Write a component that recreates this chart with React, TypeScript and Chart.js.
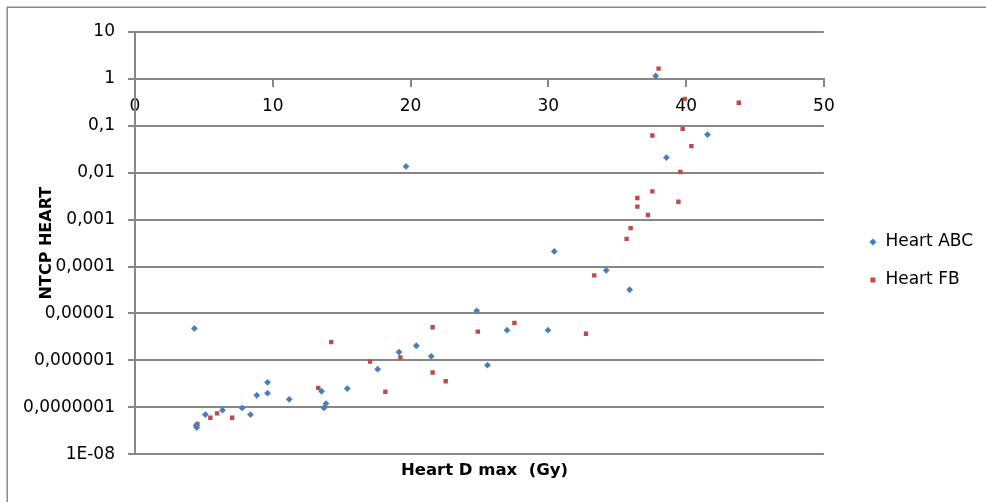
import React, { useEffect, useRef } from "react";
import { Chart, registerables } from "chart.js";

Chart.register(...registerables);

// Heart ABC series (Dmax in Gy, NTCP)
const abcX = [4.31, 4.43, 4.48, 5.11, 6.35, 7.78, 8.38, 8.84, 9.62, 9.62, 11.19, 13.54, 13.71, 13.86, 15.41, 17.61, 19.16, 19.67, 20.42, 21.5, 24.8, 25.58, 27.0, 29.97, 30.43, 34.2, 35.9, 37.79, 38.57, 41.55];
const abcY = [4.8e-6, 4.1e-8, 3.7e-8, 7.0e-8, 8.7e-8, 9.7e-8, 7.0e-8, 1.8e-7, 3.4e-7, 2.0e-7, 1.48e-7, 2.2e-7, 9.7e-8, 1.2e-7, 2.5e-7, 6.5e-7, 1.5e-6, 0.0136, 2.05e-6, 1.22e-6, 1.14e-5, 7.9e-7, 4.4e-6, 4.4e-6, 2.1e-4, 8.3e-5, 3.2e-5, 1.16, 0.021, 0.065];

// Heart FB series
const fbX = [4.53, 5.47, 5.96, 7.05, 13.3, 14.24, 17.06, 18.17, 19.26, 21.6, 21.6, 22.55, 24.88, 27.54, 32.73, 33.33, 35.68, 35.97, 36.46, 36.46, 37.23, 37.55, 37.55, 38.0, 39.44, 39.58, 39.75, 39.9, 40.38, 43.82];
const fbY = [4.4e-8, 6.0e-8, 7.4e-8, 6.0e-8, 2.6e-7, 2.45e-6, 9.4e-7, 2.15e-7, 1.15e-6, 5.1e-6, 5.5e-7, 3.6e-7, 4.1e-6, 6.3e-6, 3.7e-6, 6.5e-5, 3.9e-4, 6.6e-4, 2.9e-3, 1.9e-3, 1.26e-3, 4.0e-3, 0.062, 1.66, 2.4e-3, 0.0104, 0.086, 0.375, 0.037, 0.31];

const yTickValues = [10, 1, 0.1, 0.01, 0.001, 0.0001, 0.00001, 0.000001, 0.0000001, 0.00000001];
const yTickLabels = ["10", "1", "0,1", "0,01", "0,001", "0,0001", "0,00001", "0,000001", "0,0000001", "1E-08"];
const xTickValues = [0, 10, 20, 30, 40, 50];

const seriesNames = ["Heart ABC", "Heart FB"];
const seriesColors = ["#4a7ebb", "#be4b48"];

const GRAY = "#878787";
const FONT = "'DejaVu Sans', sans-serif";

export default function App() {
  const ref = useRef<HTMLCanvasElement>(null);

  useEffect(() => {
    document.body.style.margin = "0";
    const framePlugin = {
      id: "frame",
      beforeDraw(chart: any) {
        const ctx = chart.ctx;
        ctx.save();
        ctx.strokeStyle = "#8a8a8a";
        ctx.lineWidth = 1.5;
        ctx.strokeRect(7.25, 7.25, chart.width + 20, chart.height + 20);
        ctx.restore();
      },
    };

    const chart = new Chart(ref.current as HTMLCanvasElement, {
      type: "scatter",
      data: {
        datasets: [
          {
            label: seriesNames[0],
            data: abcX.map((x, i) => ({ x, y: abcY[i] })),
            pointStyle: "rectRot",
            pointRadius: 3.4,
            backgroundColor: seriesColors[0],
            borderColor: seriesColors[0],
            borderWidth: 0,
          },
          {
            label: seriesNames[1],
            data: fbX.map((x, i) => ({ x, y: fbY[i] })),
            pointStyle: "rect",
            pointRadius: 3.1,
            backgroundColor: seriesColors[1],
            borderColor: seriesColors[1],
            borderWidth: 0,
          },
        ],
      },
      options: {
        animation: false,
        responsive: false,
        font: { family: FONT },
        layout: { padding: { left: -14, top: 32, right: 3, bottom: 12 } },
        scales: {
          x: {
            type: "linear",
            position: { y: 1 } as any,
            min: 0,
            max: 50,
            afterBuildTicks: (s: any) => {
              s.ticks = xTickValues.map((v) => ({ value: v }));
            },
            grid: { drawOnChartArea: false, drawTicks: true, tickLength: 7, color: GRAY, lineWidth: 2 },
            border: { color: GRAY, width: 2 },
            ticks: { font: { family: FONT, size: 17 }, color: "#000", padding: 10, maxRotation: 0 },
          },
          y: {
            type: "logarithmic",
            min: 1e-8,
            max: 10,
            afterBuildTicks: (s: any) => {
              s.ticks = yTickValues.slice().reverse().map((v) => ({ value: v }));
            },
            afterFit: (s: any) => {
              s.width = 149;
            },
            grid: { color: GRAY, lineWidth: 2, tickLength: 7, drawTicks: true },
            border: { color: GRAY, width: 2 },
            ticks: {
              font: { family: FONT, size: 17 },
              color: "#000",
              padding: 13,
              callback: (v: any) => {
                const idx = yTickValues.findIndex((t) => Math.abs(Math.log10(t) - Math.log10(Number(v))) < 1e-6);
                return idx >= 0 ? yTickLabels[idx] : "";
              },
            },
            title: {
              display: true,
              text: "NTCP HEART",
              color: "#000",
              font: { family: FONT, size: 16, weight: "bold" },
              padding: { top: 51, bottom: 0 },
            },
          },
          y2: {
            type: "linear",
            position: "right",
            display: true,
            grid: { display: false },
            border: { display: false },
            ticks: { display: false },
            afterFit: (s: any) => {
              s.width = 24;
            },
          },
        },
        plugins: {
          legend: {
            display: true,
            position: "right",
            labels: {
              usePointStyle: true,
              boxWidth: 8,
              boxHeight: 5,
              padding: 21,
              color: "#000",
              font: { family: FONT, size: 17 },
            },
          },
          title: {
            display: true,
            position: "bottom",
            text: "Heart D max  (Gy)",
            color: "#000",
            font: { family: FONT, size: 16.5, weight: "bold" },
            padding: { top: 7, bottom: 9 },
          },
          tooltip: { enabled: false },
        },
      } as any,
      plugins: [framePlugin],
    });
    return () => chart.destroy();
  }, []);

  return <canvas ref={ref} width={986} height={502} style={{ display: "block" }} />;
}
